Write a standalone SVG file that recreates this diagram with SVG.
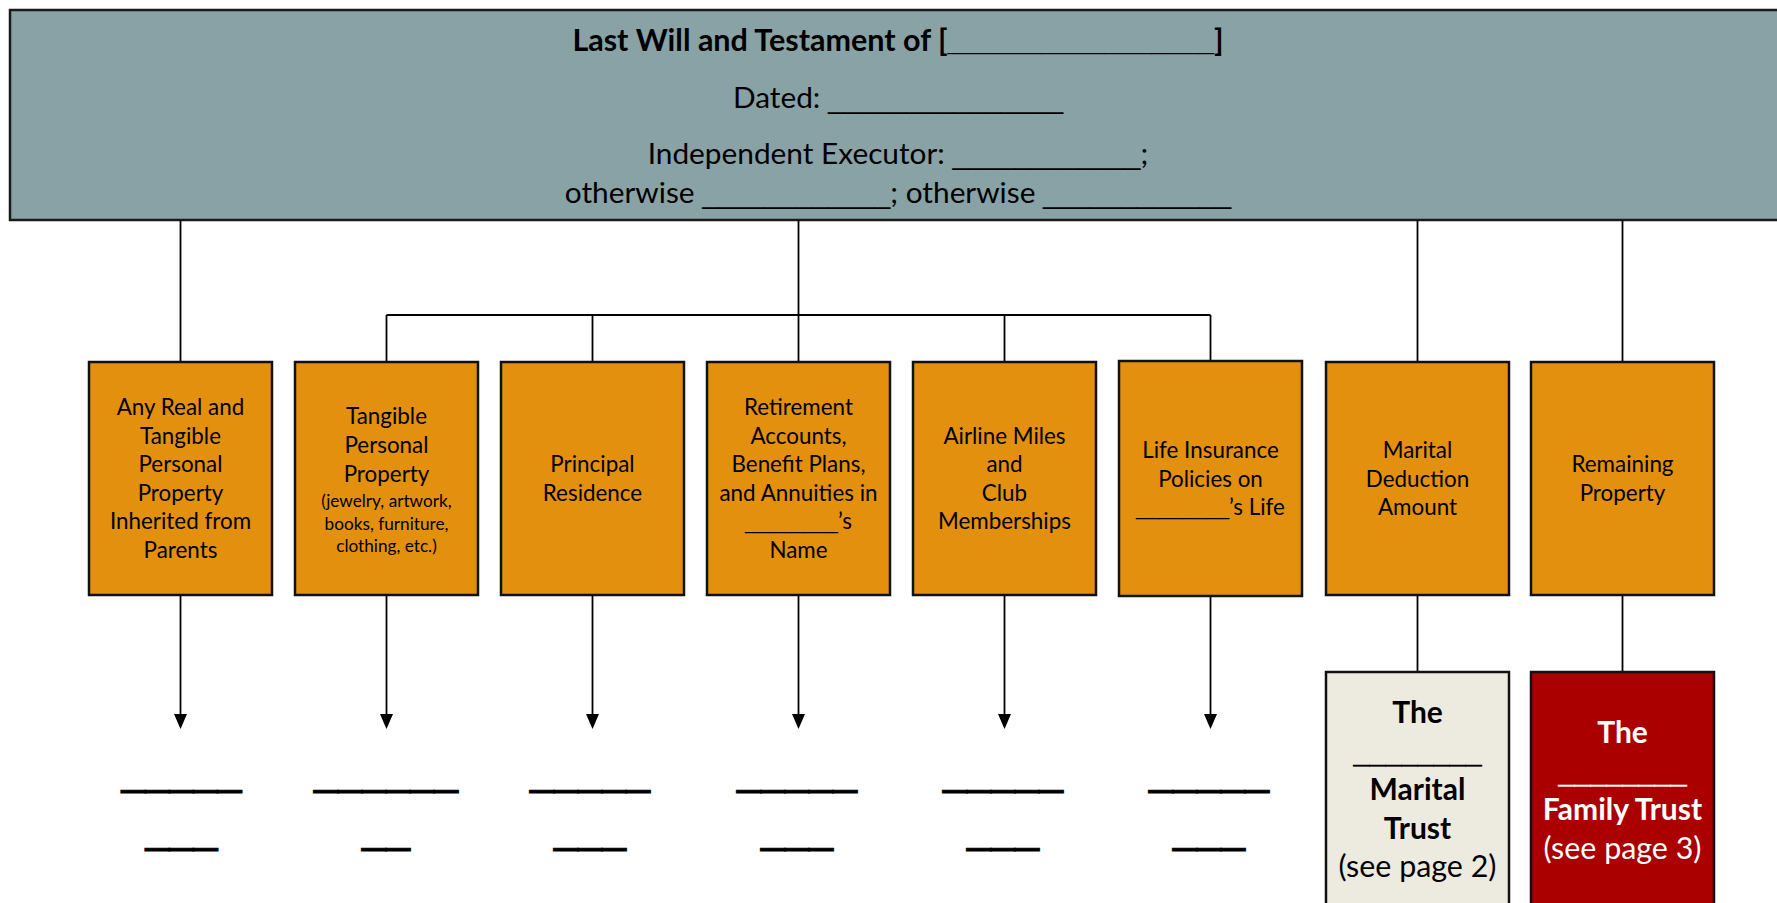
<svg xmlns="http://www.w3.org/2000/svg" width="1777" height="903" viewBox="0 0 1777 903">
<defs>
<style>
text{font-family:Lato,"Liberation Sans",sans-serif;fill:#000;text-anchor:middle}
.h{font-size:29.8px}
.hb{font-size:30.5px;font-weight:bold}
.b{font-size:22.4px}
.s{font-size:17.2px}
.t{font-size:30.4px}
.tb{font-size:30px;font-weight:bold}
.us{font-family:"Liberation Sans",Arial,sans-serif}
.uh{font-size:28.2px}
.ub{font-size:20.9px}
.ut{font-size:28.8px;stroke:#000;stroke-width:0.7}
.u{font-family:"Liberation Sans",Arial,sans-serif;font-size:43.2px;stroke:#000;stroke-width:0.9}
.box{fill:#E2900E;stroke:#111;stroke-width:2.5}
.ln{stroke:#000;stroke-width:1.8;fill:none}
.w{fill:#fff}
.ut.w{stroke:#fff}
</style>
<marker id="ah" markerWidth="15" markerHeight="13" refX="0" refY="6.5" orient="auto" markerUnits="userSpaceOnUse" viewBox="0 0 15 13">
<path d="M0,0 L15,6.5 L0,13 Z" fill="#000"/>
</marker>
</defs>
<rect width="1777" height="903" fill="#fff"/>

<g id="header">
<rect x="10" y="10" width="1790" height="210" fill="#88A2A5" stroke="#1a1a1a" stroke-width="2.5"/>
<text class="hb" x="898" y="51">Last Will and Testament of [<tspan class="us uh">_________________</tspan>]</text>
<text class="h" x="898" y="107.5">Dated: <tspan class="us uh">_______________</tspan></text>
<text class="h" x="898" y="164">Independent Executor: <tspan class="us uh">____________</tspan>;</text>
<text class="h" x="898" y="202.5">otherwise <tspan class="us uh">____________</tspan>; otherwise <tspan class="us uh">____________</tspan></text>
</g>

<g id="connectors">
<path class="ln" d="M180.5,220 V362 M798.5,220 V362 M1417.5,220 V362 M1622.5,220 V362"/>
<path class="ln" d="M386.5,315 H1210.5 M386.5,315 V362 M592.5,315 V362 M1004.5,315 V362 M1210.5,315 V362"/>
<path class="ln" d="M180.5,595 V714" marker-end="url(#ah)"/>
<path class="ln" d="M386.5,595 V714" marker-end="url(#ah)"/>
<path class="ln" d="M592.5,595 V714" marker-end="url(#ah)"/>
<path class="ln" d="M798.5,595 V714" marker-end="url(#ah)"/>
<path class="ln" d="M1004.5,595 V714" marker-end="url(#ah)"/>
<path class="ln" d="M1210.5,595 V714" marker-end="url(#ah)"/>
<path class="ln" d="M1417.5,595 V672 M1622.5,595 V672"/>
</g>

<g id="n1">
<rect class="box" x="89" y="362" width="183" height="233"/>
<text class="b" x="180.5" y="415">Any Real and</text>
<text class="b" x="180.5" y="443.6">Tangible</text>
<text class="b" x="180.5" y="472.2">Personal</text>
<text class="b" x="180.5" y="500.8">Property</text>
<text class="b" x="180.5" y="529.4">Inherited from</text>
<text class="b" x="180.5" y="558">Parents</text>
</g>
<g id="n2">
<rect class="box" x="295" y="362" width="183" height="233"/>
<text class="b" x="386.5" y="424">Tangible</text>
<text class="b" x="386.5" y="453">Personal</text>
<text class="b" x="386.5" y="482">Property</text>
<text class="s" x="386.5" y="507">(jewelry, artwork,</text>
<text class="s" x="386.5" y="529.5">books, furniture,</text>
<text class="s" x="386.5" y="552">clothing, etc.)</text>
</g>
<g id="n3">
<rect class="box" x="501" y="362" width="183" height="233"/>
<text class="b" x="592.5" y="472">Principal</text>
<text class="b" x="592.5" y="501">Residence</text>
</g>
<g id="n4">
<rect class="box" x="707" y="362" width="183" height="233"/>
<text class="b" x="798.5" y="415">Retirement</text>
<text class="b" x="798.5" y="443.6">Accounts,</text>
<text class="b" x="798.5" y="472.2">Benefit Plans,</text>
<text class="b" x="798.5" y="500.8">and Annuities in</text>
<text class="b" x="798.5" y="529.4"><tspan class="us ub">________</tspan>’s</text>
<text class="b" x="798.5" y="558">Name</text>
</g>
<g id="n5">
<rect class="box" x="913" y="362" width="183" height="233"/>
<text class="b" x="1004.5" y="443.6">Airline Miles</text>
<text class="b" x="1004.5" y="472.2">and</text>
<text class="b" x="1004.5" y="500.8">Club</text>
<text class="b" x="1004.5" y="529.4">Memberships</text>
</g>
<g id="n6">
<rect class="box" x="1119" y="361" width="183" height="235"/>
<text class="b" x="1210.5" y="458">Life Insurance</text>
<text class="b" x="1210.5" y="486.6">Policies on</text>
<text class="b" x="1210.5" y="515.2"><tspan class="us ub">________</tspan>’s Life</text>
</g>
<g id="n7">
<rect class="box" x="1326" y="362" width="183" height="233"/>
<text class="b" x="1417.5" y="458">Marital</text>
<text class="b" x="1417.5" y="486.6">Deduction</text>
<text class="b" x="1417.5" y="515.2">Amount</text>
</g>
<g id="n8">
<rect class="box" x="1531" y="362" width="183" height="233"/>
<text class="b" x="1622.5" y="472">Remaining</text>
<text class="b" x="1622.5" y="501">Property</text>
</g>

<g id="marital-trust">
<rect x="1326" y="672" width="183" height="250" fill="#EDEBE0" stroke="#111" stroke-width="2.5"/>
<text class="tb" x="1417.5" y="723">The</text>
<text class="tb us ut" x="1417.5" y="763">________</text>
<text class="tb" x="1417.5" y="800">Marital</text>
<text class="tb" x="1417.5" y="838.5">Trust</text>
<text class="t" x="1417.5" y="877">(see page 2)</text>
</g>
<g id="family-trust">
<rect x="1531" y="672" width="183" height="250" fill="#AA0000" stroke="#111" stroke-width="2.5"/>
<text class="tb w" x="1622.5" y="743">The</text>
<text class="tb us ut w" x="1622.5" y="783">________</text>
<text class="tb w" x="1622.5" y="820">Family Trust</text>
<text class="t w" x="1622.5" y="858.5">(see page 3)</text>
</g>

<g id="blanks">
<text class="u" x="181.5" y="785">_____</text>
<text class="u" x="181.5" y="843">___</text>
<text class="u" x="386" y="785">______</text>
<text class="u" x="386" y="843">__</text>
<text class="u" x="590" y="785">_____</text>
<text class="u" x="590" y="843">___</text>
<text class="u" x="797" y="785">_____</text>
<text class="u" x="797" y="843">___</text>
<text class="u" x="1003" y="785">_____</text>
<text class="u" x="1003" y="843">___</text>
<text class="u" x="1209" y="785">_____</text>
<text class="u" x="1209" y="843">___</text>
</g>
</svg>
